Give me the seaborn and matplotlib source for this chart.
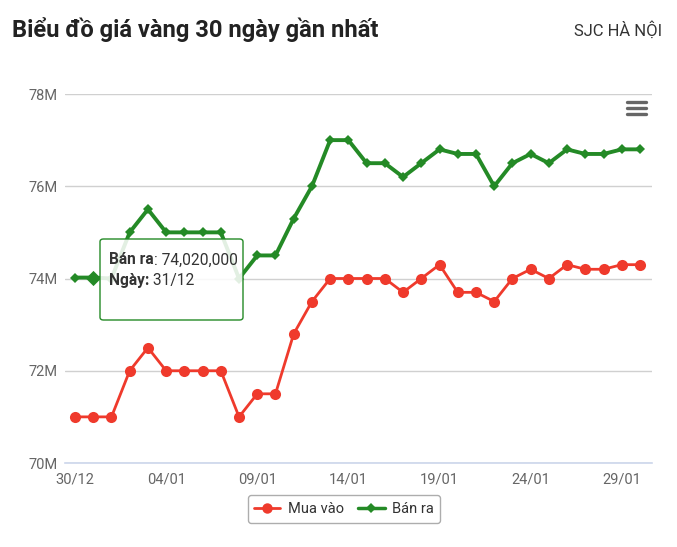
import matplotlib
matplotlib.use("Agg")
import matplotlib.pyplot as plt
import seaborn as sns
import pandas as pd
from matplotlib.patches import FancyBboxPatch
from matplotlib.ticker import FuncFormatter, MultipleLocator, FixedLocator
from matplotlib.lines import Line2D

# ---------------- data ----------------
dates = ["30/12", "31/12", "01/01", "02/01", "03/01", "04/01", "05/01", "06/01",
         "07/01", "08/01", "09/01", "10/01", "11/01", "12/01", "13/01", "14/01",
         "15/01", "16/01", "17/01", "18/01", "19/01", "20/01", "21/01", "22/01",
         "23/01", "24/01", "25/01", "26/01", "27/01", "28/01", "29/01", "30/01"]
mua_vao = [71000000, 71000000, 71000000, 72000000, 72500000, 72000000, 72000000, 72000000,
           72000000, 71000000, 71500000, 71500000, 72800000, 73500000, 74000000, 74000000,
           74000000, 74000000, 73700000, 74000000, 74300000, 73700000, 73700000, 73500000,
           74000000, 74200000, 74000000, 74300000, 74200000, 74200000, 74300000, 74300000]
ban_ra = [74020000, 74020000, 74000000, 75000000, 75500000, 75000000, 75000000, 75000000,
          75000000, 74000000, 74500000, 74500000, 75300000, 76000000, 77000000, 77000000,
          76500000, 76500000, 76200000, 76500000, 76800000, 76700000, 76700000, 76000000,
          76500000, 76700000, 76500000, 76800000, 76700000, 76700000, 76800000, 76800000]
series_names = ["Mua vào", "Bán ra"]
y_ticks = [70000000, 72000000, 74000000, 76000000, 78000000]
hover_index = 1

RED = "#EF3A2C"
GREEN = "#248A26"
TXT = "#333333"

sns.set_style("white")
plt.rcParams["font.family"] = ["Roboto", "DejaVu Sans"]

df = pd.DataFrame({"idx": range(len(dates)), "date": dates,
                   "mua": mua_vao, "ban": ban_ra})

W, H = 677, 547
fig = plt.figure(figsize=(W / 100, H / 100), dpi=100)
ax = fig.add_axes([65 / W, 1 - 463 / H, (652 - 65) / W, (463 - 94) / H])

sns.lineplot(data=df, x="idx", y="mua", ax=ax, color=RED, linewidth=2.0,
             marker="o", markersize=8, markeredgewidth=0, zorder=3)
sns.lineplot(data=df, x="idx", y="ban", ax=ax, color=GREEN, linewidth=2.8,
             marker="D", markersize=5.5, markeredgewidth=0, zorder=4)
# hovered point
ax.scatter([df["idx"][hover_index]], [df["ban"][hover_index]], marker="D",
           s=60, color=GREEN, zorder=5, linewidths=0)

ax.set_xlim(-0.55, len(dates) - 1 + 0.66)
ax.set_ylim(y_ticks[0], y_ticks[-1])
ax.yaxis.set_major_locator(FixedLocator(y_ticks))
ax.yaxis.set_major_formatter(FuncFormatter(lambda v, p: f"{v / 1e6:.0f}M"))
major = list(range(0, len(dates), 5))
ax.xaxis.set_major_locator(FixedLocator(major))
ax.set_xticklabels([dates[i] for i in major])
ax.xaxis.set_minor_locator(MultipleLocator(1))
ax.set_xlabel("")
ax.set_ylabel("")

ax.grid(axis="y", color="#d0d0d0", linewidth=1.0)
ax.grid(axis="x", visible=False)
for s in ["top", "right", "left"]:
    ax.spines[s].set_visible(False)
ax.spines["bottom"].set_color("#ccd6eb")
ax.spines["bottom"].set_linewidth(1.2)
ax.tick_params(axis="x", which="both", direction="out", length=6, width=1,
               color="#ccd6eb", labelsize=10.5, labelcolor="#666666", pad=1)
ax.tick_params(axis="y", length=0, labelsize=10.5, labelcolor="#666666", pad=5)

# title and subtitle
fig.text(12 / W, 1 - 30 / H, "Biểu đồ giá vàng 30 ngày gần nhất", fontsize=17.1,
         fontweight="bold", color="#222222", va="center", ha="left")
fig.text(662 / W, 1 - 30 / H, "SJC HÀ NỘI", fontsize=12, color=TXT,
         va="center", ha="right")

# menu icon
for yy in (101.5, 107.5, 114):
    fig.add_artist(Line2D([627 / W, 646 / W], [1 - yy / H, 1 - yy / H],
                          transform=fig.transFigure, color="#666666", linewidth=2.4,
                          solid_capstyle="round", zorder=10))

# tooltip
tip = FancyBboxPatch((100 / W, 1 - 320 / H), 143 / W, 81 / H,
                     boxstyle="round,pad=0,rounding_size=0.005",
                     transform=fig.transFigure, facecolor="white", alpha=0.87,
                     edgecolor="none", zorder=10)
fig.patches.append(tip)
tip_edge = FancyBboxPatch((100 / W, 1 - 320 / H), 143 / W, 81 / H,
                          boxstyle="round,pad=0,rounding_size=0.005",
                          transform=fig.transFigure, facecolor="none",
                          edgecolor=GREEN, linewidth=1.0, zorder=10)
fig.patches.append(tip_edge)

renderer = fig.canvas.get_renderer()
lines = [(series_names[1], f": {ban_ra[hover_index]:,}", 260),
         ("Ngày:", f" {dates[hover_index]}", 280)]
for bold, normal, yy in lines:
    tb = fig.text(109 / W, 1 - yy / H, bold, fontsize=11.2, fontweight="bold",
                  color=TXT, va="center", ha="left", zorder=11)
    ext = tb.get_window_extent(renderer)
    fig.text(ext.x1 / W, 1 - yy / H, normal, fontsize=11.2, color=TXT,
             va="center", ha="left", zorder=11)

# legend
handles = [Line2D([0], [0], color=RED, linewidth=2, marker="o", markersize=7.5,
                  markeredgewidth=0),
           Line2D([0], [0], color=GREEN, linewidth=2.5, marker="D", markersize=5.5,
                  markeredgewidth=0)]
leg = fig.legend(handles, series_names, loc="center", bbox_to_anchor=(344 / W, 1 - 509 / H),
                 ncol=2, frameon=True, fontsize=10.5, handlelength=1.8,
                 columnspacing=1.0, handletextpad=0.5, borderpad=0.45,
                 fancybox=True)
leg.get_frame().set_edgecolor("#999999")
leg.get_frame().set_linewidth(1.0)
for t in leg.get_texts():
    t.set_color(TXT)

fig.savefig("out.png", dpi=100)
